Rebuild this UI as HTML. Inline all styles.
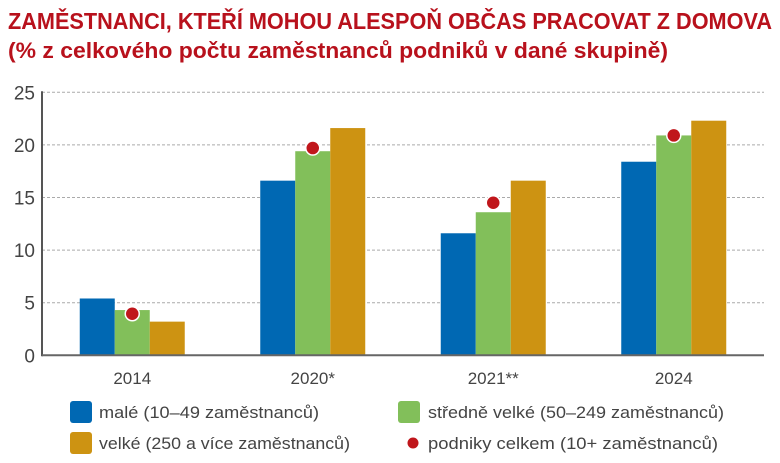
<!DOCTYPE html>
<html><head><meta charset="utf-8"><style>
html,body{margin:0;padding:0;background:#fff;}
svg{display:block;font-family:"Liberation Sans",sans-serif;}
</style></head><body>
<svg id="chart" width="780" height="463" viewBox="0 0 780 463">
<text x="8" y="29" font-size="23" font-weight="bold" fill="#b8111c" textLength="764" lengthAdjust="spacingAndGlyphs">ZAMĚSTNANCI, KTEŘÍ MOHOU ALESPOŇ OBČAS PRACOVAT Z DOMOVA</text>
<text x="8" y="58" font-size="22" font-weight="bold" fill="#b8111c" textLength="660" lengthAdjust="spacingAndGlyphs">(% z celkového počtu zaměstnanců podniků v dané skupině)</text>
<g id="grid"></g><g id="bars"></g><g id="dots"></g><g id="axes"></g>
<g font-size="17" fill="#444">
<rect x="70" y="401" width="22" height="22" rx="3" fill="#0068b3"/>
<text x="99" y="418" textLength="220" lengthAdjust="spacingAndGlyphs">malé (10–49 zaměstnanců)</text>
<rect x="398" y="401" width="22" height="22" rx="3" fill="#82bf5a"/>
<text x="428" y="418" textLength="296" lengthAdjust="spacingAndGlyphs">středně velké (50–249 zaměstnanců)</text>
<rect x="70" y="432" width="22" height="22" rx="3" fill="#cd9312"/>
<text x="99" y="449" textLength="251" lengthAdjust="spacingAndGlyphs">velké (250 a více zaměstnanců)</text>
<circle cx="413" cy="443" r="5.5" fill="#c0161b"/>
<text x="428" y="449" textLength="290" lengthAdjust="spacingAndGlyphs">podniky celkem (10+ zaměstnanců)</text>
</g>
</svg>
<script>
const categories = ["2014","2020*","2021**","2024"];
const smallVals = [5.4,16.6,11.6,18.4];
const mediumVals = [4.3,19.4,13.6,20.9];
const largeVals = [3.2,21.6,16.6,22.3];
const totalVals = [3.95,19.7,14.5,20.9];
const yTicks = [0,5,10,15,20,25];

const NS="http://www.w3.org/2000/svg";
const x0=42,x1=764,y0=355.3,yMax=25,yTop=92.3;
const band=(x1-x0)/categories.length, bw=35;
function y(v){return y0-(v/yMax)*(y0-yTop);}
function xc(i){return x0+band*(i+0.5);}
function mk(tag,attrs,parent){const e=document.createElementNS(NS,tag);for(const k in attrs)e.setAttribute(k,attrs[k]);parent.appendChild(e);return e;}
const grid=document.getElementById('grid'),bars=document.getElementById('bars'),dots=document.getElementById('dots'),axes=document.getElementById('axes');
yTicks.forEach(t=>{
  if(t>0){const l=mk('line',{x1:x0,x2:x1,y1:y(t),y2:y(t),stroke:'#aaa','stroke-dasharray':'3,2','stroke-width':1},grid);
  
  }
  const tx=mk('text',{x:35,y:y(t)+7,'text-anchor':'end','font-size':19,fill:'#444'},axes);
  tx.textContent=t;
  
  
});
const series=[[smallVals,'#0068b3','small'],[mediumVals,'#82bf5a','medium'],[largeVals,'#cd9312','large']];
categories.forEach((c,i)=>{
  series.forEach((s,j)=>{
    const v=s[0][i];
    const r=mk('rect',{x:xc(i)-1.5*bw+j*bw,y:y(v),width:bw,height:y0-y(v),fill:s[1]},bars);
    
    
  });
  const d=mk('circle',{cx:xc(i),cy:y(totalVals[i]),r:7,fill:'#c0161b',stroke:'#fff','stroke-width':1.5},dots);
  
  
  const t=mk('text',{x:xc(i),y:384,'text-anchor':'middle','font-size':17,fill:'#444'},axes);
  t.textContent=c;
  
  
});
const ya=mk('line',{x1:x0,x2:x0,y1:yTop-1,y2:y0+1,stroke:'#555','stroke-width':2},axes);


const xa=mk('line',{x1:x0,x2:x1,y1:y0,y2:y0,stroke:'#666','stroke-width':2},axes);


</script>
</body></html>
